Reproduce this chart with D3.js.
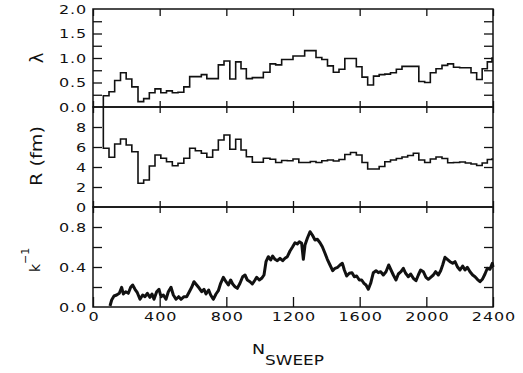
<!DOCTYPE html>
<html><head><meta charset="utf-8">
<script src="https://cdn.jsdelivr.net/npm/d3@7"></script>
<style>
html,body{margin:0;padding:0;background:#fff;}
svg{display:block;}
text{font-family:"DejaVu Sans",sans-serif;fill:#111;}
</style></head><body>
<svg id="chart" width="523" height="373"></svg>
<script>
// Sweep number at which each block of the step traces begins
const stepStart = [62,96,130,165,199,233,270,304,338,372,407,441,476,510,545,580,614,650,683,718,
  752,786,821,856,888,920,956,990,1022,1062,1096,1132,1166,1200,1235,1270,1304,1338,1373,1407,
  1442,1476,1511,1545,1580,1614,1648,1683,1717,1751,1785,1820,1854,1888,1922,1955,1990,2024,2058,2094,
  2128,2163,2200,2234,2268,2302,2335,2366,2394];
// Block-averaged lambda
const lambdaSteps = [0.23,0.31,0.54,0.70,0.57,0.41,0.11,0.17,0.29,0.37,0.29,0.33,0.29,0.30,0.41,0.62,0.62,0.66,0.58,0.58,
  0.86,0.94,0.57,0.92,0.78,0.58,0.60,0.60,0.71,0.88,0.86,0.97,0.97,1.04,1.04,1.15,1.15,1.01,0.97,0.84,
  0.71,0.77,0.99,0.99,0.82,0.61,0.45,0.63,0.66,0.67,0.70,0.77,0.83,0.83,0.83,0.52,0.50,0.70,0.78,0.85,
  0.88,0.81,0.80,0.80,0.70,0.56,0.78,0.92,1.00];
// Block-averaged radius R (fm)
const radiusSteps = [5.87,4.97,6.3,6.8,6.2,5.53,2.37,2.7,4.1,5.2,4.87,4.53,4.13,4.37,4.87,5.87,5.63,5.37,4.97,5.7,
  6.7,7.2,5.77,6.77,5.7,5.03,4.47,4.47,4.87,4.77,4.45,4.65,4.63,4.8,4.45,4.45,4.55,4.45,4.63,4.7,
  4.6,4.75,5.25,5.45,5.2,4.45,3.8,3.8,4.05,4.53,4.7,4.85,5.0,5.15,5.37,4.7,4.45,4.8,5.0,4.85,
  4.43,4.45,4.5,4.4,4.3,4.15,4.4,4.75,4.8];
const lambdaStart = 0;   // lambda trace rises from the axis
const radiusStart = 10;  // initial radius is off scale, clipped at the panel top
const sweepEnd = 2400;

// Inverse coupling k^-1 versus sweep
const kSweep = [102,112,126,142,158,172,182,196,212,226,238,252,266,282,298,312,326,342,354,366,
  382,396,408,422,438,452,468,482,498,514,528,546,562,578,592,606,622,638,652,666,
  678,694,706,722,738,752,766,782,798,812,826,838,852,866,882,898,912,926,942,956,
  972,982,998,1012,1026,1038,1052,1066,1078,1092,1106,1122,1138,1152,1166,1182,1198,1212,1226,1238,
  1252,1262,1272,1286,1302,1316,1332,1346,1362,1376,1392,1406,1422,1438,1452,1468,1482,1496,1508,1522,
  1538,1554,1568,1582,1598,1612,1626,1638,1652,1666,1682,1698,1712,1726,1742,1758,1774,1788,1802,1818,
  1832,1848,1862,1876,1892,1906,1922,1938,1952,1966,1982,1998,2012,2026,2042,2056,2072,2086,2098,2112,
  2126,2142,2158,2172,2186,2202,2218,2232,2246,2262,2278,2292,2306,2322,2336,2352,2366,2382,2396,2400];
const kInv = [0.01,0.07,0.11,0.12,0.137,0.197,0.13,0.153,0.137,0.197,0.22,0.177,0.143,0.077,0.12,0.103,0.137,0.097,0.13,0.077,
  0.153,0.177,0.103,0.12,0.077,0.153,0.197,0.12,0.077,0.103,0.077,0.103,0.103,0.153,0.197,0.253,0.22,0.187,0.153,0.177,
  0.13,0.17,0.12,0.077,0.13,0.163,0.237,0.297,0.253,0.22,0.27,0.23,0.203,0.187,0.237,0.303,0.32,0.27,0.253,0.23,
  0.27,0.297,0.27,0.287,0.32,0.453,0.503,0.47,0.51,0.477,0.463,0.487,0.463,0.487,0.503,0.56,0.603,0.643,0.63,0.653,
  0.637,0.477,0.62,0.687,0.753,0.72,0.67,0.677,0.643,0.603,0.537,0.477,0.42,0.363,0.387,0.397,0.42,0.437,0.37,0.31,
  0.337,0.343,0.303,0.31,0.27,0.27,0.237,0.22,0.177,0.237,0.343,0.363,0.343,0.353,0.32,0.353,0.42,0.37,0.32,0.27,
  0.33,0.353,0.387,0.337,0.303,0.33,0.287,0.263,0.32,0.37,0.353,0.297,0.277,0.297,0.32,0.353,0.32,0.363,0.42,0.497,
  0.477,0.453,0.437,0.453,0.403,0.37,0.41,0.37,0.397,0.353,0.32,0.303,0.277,0.253,0.277,0.33,0.387,0.377,0.437,0.40];

const xTicks = [0,400,800,1200,1600,2000,2400];
const lambdaTicks = [0.25,0.5,0.75,1.0,1.25,1.5,1.75];
const lambdaLabels = ["0.0","0.5","1.0","1.5","2.0"];
const radiusTicks = [2,4,6,8];
const radiusLabels = ["0","2","4","6","8"];
const kTicks = [0.2,0.4,0.6,0.8];
const kLabels = ["0.0","0.4","0.8"];

const svg = d3.select("#chart");
const L = 93, R = 493;
const x = d3.scaleLinear([0, 2400], [L, R]);
const yL = d3.scaleLinear([0, 2], [107, 9]);
const yR = d3.scaleLinear([0, 10], [207, 107]);
const yK = d3.scaleLinear([0, 1], [307, 207]);
const STRETCH = 1.28;

const panels = [
  {y: yL, ticks: lambdaTicks, labels: lambdaLabels},
  {y: yR, ticks: radiusTicks, labels: radiusLabels},
  {y: yK, ticks: kTicks, labels: kLabels}
];

// y ticks on both sides, pointing inward
panels.forEach(p => {
  const left = d3.axisLeft(p.y).tickValues(p.ticks).tickSize(-9).tickSizeOuter(0).tickFormat("");
  const right = d3.axisRight(p.y).tickValues(p.ticks).tickSize(-9).tickSizeOuter(0).tickFormat("");
  svg.append("g").attr("transform", `translate(${L},0)`).call(left);
  svg.append("g").attr("transform", `translate(${R},0)`).call(right);
  // tick labels, drawn in a wide face
  svg.append("g").selectAll("text").data(p.labels).join("text")
    .attr("transform", d => `translate(87,${p.y(+d) + 4.5}) scale(${STRETCH},1)`)
    .attr("text-anchor", "end")
    .style("font-size", "12.5px")
    .style("letter-spacing", "0.7px")
    .text(d => d);
});

// x ticks on every panel edge, pointing inward
function xAxis(gen, yPos, size) {
  svg.append("g").attr("transform", `translate(0,${yPos})`)
    .call(gen(x).tickValues(xTicks).tickSize(size).tickSizeOuter(0).tickFormat(""));
}
xAxis(d3.axisTop, 9, -7);
xAxis(d3.axisBottom, 107, -6); xAxis(d3.axisTop, 107, -6);
xAxis(d3.axisBottom, 207, -6); xAxis(d3.axisTop, 207, -6);
xAxis(d3.axisBottom, 307, -10);

svg.selectAll(".domain").remove();
svg.selectAll(".tick line").attr("stroke", "#111").attr("stroke-width", 1.3);

svg.append("g").selectAll("text").data(xTicks).join("text")
  .attr("transform", d => `translate(${x(d) + 1},321) scale(${STRETCH},1)`)
  .attr("text-anchor", "middle")
  .style("font-size", "12.5px")
  .style("letter-spacing", "0.7px")
  .text(d => d);

// panel frames
[yL, yR, yK].forEach(y => {
  svg.append("rect").attr("x", L).attr("y", y.range()[1])
    .attr("width", R - L).attr("height", y.range()[0] - y.range()[1])
    .attr("fill", "none").attr("stroke", "#111").attr("stroke-width", 1.5);
});

// step traces
function stepPoints(start, values) {
  const pts = [{n: stepStart[0], v: start}];
  stepStart.forEach((n, i) => pts.push({n, v: values[i]}));
  pts.push({n: sweepEnd, v: values[values.length - 1]});
  return pts;
}
function drawSteps(pts, y) {
  svg.append("path").datum(pts)
    .attr("d", d3.line().x(d => x(d.n)).y(d => y(d.v)).curve(d3.curveStepAfter))
    .attr("fill", "none").attr("stroke", "#111").attr("stroke-width", 1.6);
}
drawSteps(stepPoints(lambdaStart, lambdaSteps), yL);
drawSteps(stepPoints(radiusStart, radiusSteps), yR);

// k^-1 history
svg.append("path").datum(kSweep.map((n, i) => ({n, v: kInv[i]})))
  .attr("d", d3.line().x(d => x(d.n)).y(d => yK(d.v)))
  .attr("fill", "none").attr("stroke", "#111").attr("stroke-width", 3)
  .attr("stroke-linejoin", "round");

// axis titles
svg.append("text").attr("transform", "translate(43,58) rotate(-90)")
  .attr("text-anchor", "middle").style("font-size", "18px").text("λ");
svg.append("text").attr("transform", `translate(41.5,156) rotate(-90) scale(1.2,1)`)
  .attr("text-anchor", "middle").style("font-size", "16px").text("R (fm)");
const kt = svg.append("text").attr("transform", "translate(40,272) rotate(-90)")
  .attr("text-anchor", "start").style("font-size", "14px");
kt.append("tspan").text("k");
kt.append("tspan").attr("dy", -11).style("font-size", "11px").text("−1");

const nt = svg.append("text").attr("transform", `translate(252,354) scale(1.25,1)`)
  .style("font-size", "14px");
nt.append("tspan").text("N");
nt.append("tspan").attr("dy", 11).style("font-size", "13.5px").text("SWEEP");
</script>
</body></html>
